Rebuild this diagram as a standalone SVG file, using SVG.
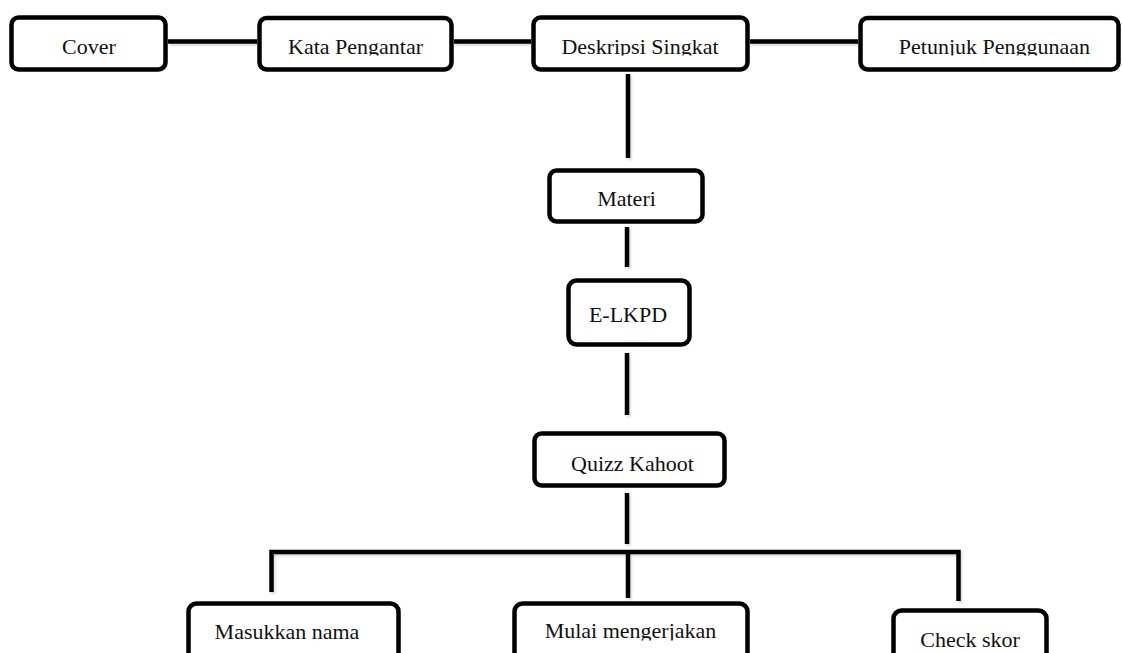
<svg xmlns="http://www.w3.org/2000/svg" width="1122" height="653" viewBox="0 0 1122 653">
  <style>
    .box { fill: #ffffff; stroke: #000000; stroke-width: 4.5; }
    .lbl { font-family: "Liberation Serif", "Times New Roman", serif; font-size: 22px; fill: #111111; text-anchor: middle; }
    .conn path { fill: none; stroke: #000000; stroke-width: 4.5; stroke-linecap: butt; stroke-linejoin: miter; }
  </style>
  <defs>
    <filter id="sh" x="-5%" y="-5%" width="110%" height="120%">
      <feDropShadow dx="1.5" dy="2" stdDeviation="0.8" flood-color="#000000" flood-opacity="0.15"/>
    </filter>
    <clipPath id="clipTop" clipPathUnits="userSpaceOnUse"><rect x="0" y="0" width="1122" height="55.5"/></clipPath>
    <clipPath id="clipBottom" clipPathUnits="userSpaceOnUse"><rect x="0" y="560" width="1122" height="80.5"/></clipPath>
  </defs>
  <rect x="0" y="0" width="1122" height="653" fill="#ffffff"/>

  <g id="connectors" class="conn" filter="url(#sh)">
    <path d="M168 41.5 H257"/>
    <path d="M454 41.5 H531"/>
    <path d="M750 41.5 H858"/>
    <path d="M628 74 V158"/>
    <path d="M627 227 V267"/>
    <path d="M627 353 V415"/>
    <path d="M627 493 V544"/>
    <path d="M271.5 592 V552 H958.5 V601"/>
    <path d="M628 552 V598"/>
  </g>

  <g id="cover">
    <rect class="box" x="11.5" y="17.5" width="154" height="52" rx="7"/>
    <text class="lbl" x="89" y="54" clip-path="url(#clipTop)">Cover</text>
  </g>
  <g id="kata-pengantar">
    <rect class="box" x="259.5" y="18" width="192" height="51.5" rx="7"/>
    <text class="lbl" x="355.5" y="54" clip-path="url(#clipTop)">Kata Pengantar</text>
  </g>
  <g id="deskripsi-singkat">
    <rect class="box" x="533.5" y="17.5" width="214" height="52" rx="7"/>
    <text class="lbl" x="640" y="53.5" clip-path="url(#clipTop)">Deskripsi Singkat</text>
  </g>
  <g id="petunjuk-penggunaan">
    <rect class="box" x="860.5" y="18" width="258" height="51.5" rx="7"/>
    <text class="lbl" x="994.5" y="54" clip-path="url(#clipTop)">Petunjuk Penggunaan</text>
  </g>
  <g id="materi">
    <rect class="box" x="549.5" y="170.5" width="153" height="51" rx="7"/>
    <text class="lbl" x="626.5" y="206">Materi</text>
  </g>
  <g id="e-lkpd">
    <rect class="box" x="568.5" y="280.5" width="121" height="64" rx="8"/>
    <text class="lbl" x="628" y="322">E-LKPD</text>
  </g>
  <g id="quizz-kahoot">
    <rect class="box" x="534.5" y="433.5" width="190" height="52" rx="7"/>
    <text class="lbl" x="632.5" y="471">Quizz Kahoot</text>
  </g>
  <g id="masukkan-nama">
    <rect class="box" x="188.5" y="603.5" width="210" height="60" rx="8"/>
    <text class="lbl" x="287" y="639">Masukkan nama</text>
  </g>
  <g id="mulai-mengerjakan">
    <rect class="box" x="514.5" y="603.5" width="233" height="60" rx="8"/>
    <text class="lbl" x="630.5" y="638" clip-path="url(#clipBottom)">Mulai mengerjakan</text>
  </g>
  <g id="check-skor">
    <rect class="box" x="893.5" y="610.5" width="153" height="55" rx="8"/>
    <text class="lbl" x="970" y="647">Check skor</text>
  </g>
</svg>
